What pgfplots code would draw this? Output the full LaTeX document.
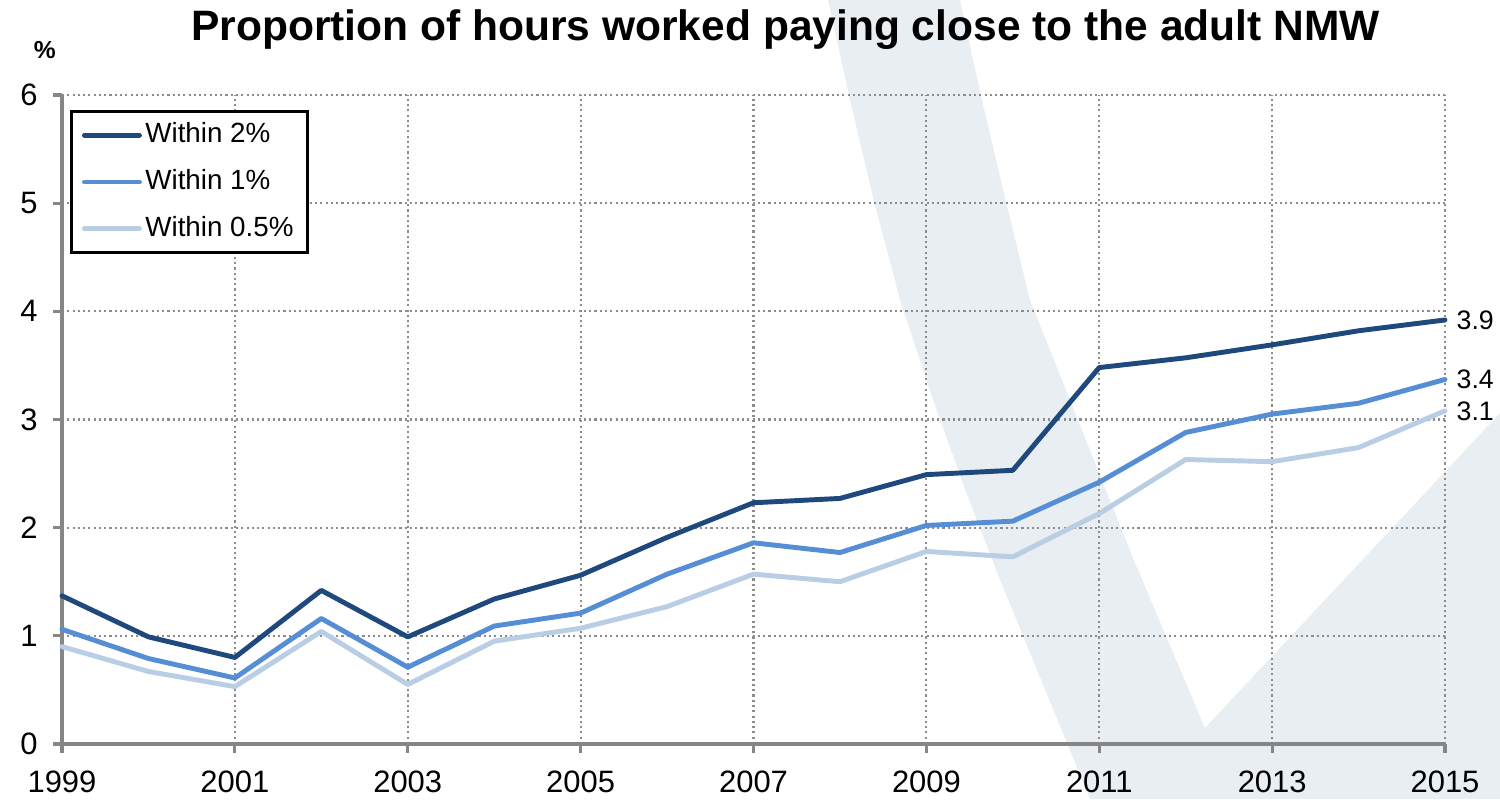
\documentclass[border=0pt]{standalone}
\usepackage{fontspec}
\setmainfont{Liberation Sans}
\usepackage{pgfplots}
\pgfplotsset{compat=1.18}
\definecolor{cA}{HTML}{1F497D}
\definecolor{cB}{HTML}{558ED5}
\definecolor{cC}{HTML}{B9CDE5}
\definecolor{wm}{HTML}{E9EEF3}
\definecolor{axgray}{HTML}{868686}
\definecolor{gridgray}{HTML}{8C8C8C}
\begin{document}
\begin{tikzpicture}
\begin{axis}[
  set layers=standard,
  scale only axis, width=13.83cm, height=6.49cm,
  xmin=1999, xmax=2015, ymin=0, ymax=6,
  xtick={1999,2001,...,2015}, ytick={0,1,...,6},
  axis x line*=bottom, axis y line*=left,
  axis line style={axgray, line width=0.9pt, -},
  tick style={axgray, line width=0.9pt},
  tick align=outside, major tick length=0.09cm,
  grid=major,
  major grid style={gridgray, line width=0.6pt, dash pattern=on 0.6pt off 0.9pt},
  clip=false,
  ticklabel style={font=\fontsize{8.8}{10}\selectfont},
  xticklabel style={yshift=-0.06cm},
  yticklabel style={xshift=-0.03cm},
  /pgf/number format/assume math mode=true,
  /pgf/number format/set thousands separator={},
  legend cell align=left,
  legend image code/.code={\draw[#1, line cap=round] (0cm,0cm) -- (0.55cm,0cm);},
  legend style={at={(0.0058,0.977)}, anchor=north west, draw=black, line width=0.8pt,
    font=\fontsize{7.9}{9.5}\selectfont, fill=white,
    inner xsep=3pt, inner ysep=2pt, row sep=3.7pt,
    nodes={inner sep=1pt, text height=6pt, text depth=1.6pt}},
  every axis plot/.append style={line width=1.4pt, line join=round, line cap=round},
]
% picture frame (1500 x 799 px)
\path (axis cs:1998.2827,-0.5085) rectangle (axis cs:2015.6363,6.8783);
% background watermark
\begin{pgfonlayer}{axis background}
\fill[wm] (axis cs:2007.862,6.878) -- (axis cs:2008.116,5.954) -- (axis cs:2008.40,5.00) -- (axis cs:2008.695,4.105)
  -- (axis cs:2009.077,3.180) -- (axis cs:2009.45,2.35) -- (axis cs:2009.852,1.516) -- (axis cs:2010.893,-0.5085)
  -- (axis cs:2015.6363,-0.5085) -- (axis cs:2015.6363,3.060) -- (axis cs:2012.223,0.148)
  -- (axis cs:2011.40,1.70) -- (axis cs:2010.662,3.180) -- (axis cs:2010.199,4.105) -- (axis cs:2009.91,5.05) -- (axis cs:2009.643,5.954)
  -- (axis cs:2009.389,6.878) -- cycle;
\end{pgfonlayer}

\addplot[cA] coordinates {
(1999,1.37) (2000,0.99) (2001,0.80) (2002,1.42) (2003,0.99) (2004,1.34) (2005,1.56)
(2006,1.91) (2007,2.23) (2008,2.27) (2009,2.49) (2010,2.53) (2011,3.48) (2012,3.57)
(2013,3.69) (2014,3.82) (2015,3.92)};
\addlegendentry{Within 2\%}
\addplot[cB] coordinates {
(1999,1.06) (2000,0.79) (2001,0.61) (2002,1.16) (2003,0.71) (2004,1.09) (2005,1.21)
(2006,1.57) (2007,1.86) (2008,1.77) (2009,2.02) (2010,2.06) (2011,2.42) (2012,2.88)
(2013,3.05) (2014,3.15) (2015,3.37)};
\addlegendentry{Within 1\%}
\addplot[cC] coordinates {
(1999,0.90) (2000,0.67) (2001,0.53) (2002,1.04) (2003,0.55) (2004,0.95) (2005,1.07)
(2006,1.27) (2007,1.57) (2008,1.50) (2009,1.78) (2010,1.73) (2011,2.13) (2012,2.63)
(2013,2.61) (2014,2.74) (2015,3.08)};
\addlegendentry{Within 0.5\%}

\node[anchor=west, inner sep=0pt, font=\fontsize{7.6}{9}\selectfont] at ([xshift=0.11cm]axis cs:2015,3.92) {3.9};
\node[anchor=west, inner sep=0pt, font=\fontsize{7.6}{9}\selectfont] at ([xshift=0.11cm]axis cs:2015,3.37) {3.4};
\node[anchor=west, inner sep=0pt, font=\fontsize{7.6}{9}\selectfont] at ([xshift=0.11cm]axis cs:2015,3.08) {3.1};

\node[anchor=base, inner sep=0pt, font=\bfseries\fontsize{12.1}{14}\selectfont] at (axis cs:2007.37,6.50) {Proportion of hours worked paying close to the adult NMW};
\node[inner sep=0pt, font=\bfseries\fontsize{7}{8}\selectfont] at (axis cs:1998.80,6.42) {\%};
\end{axis}
\end{tikzpicture}
\end{document}
